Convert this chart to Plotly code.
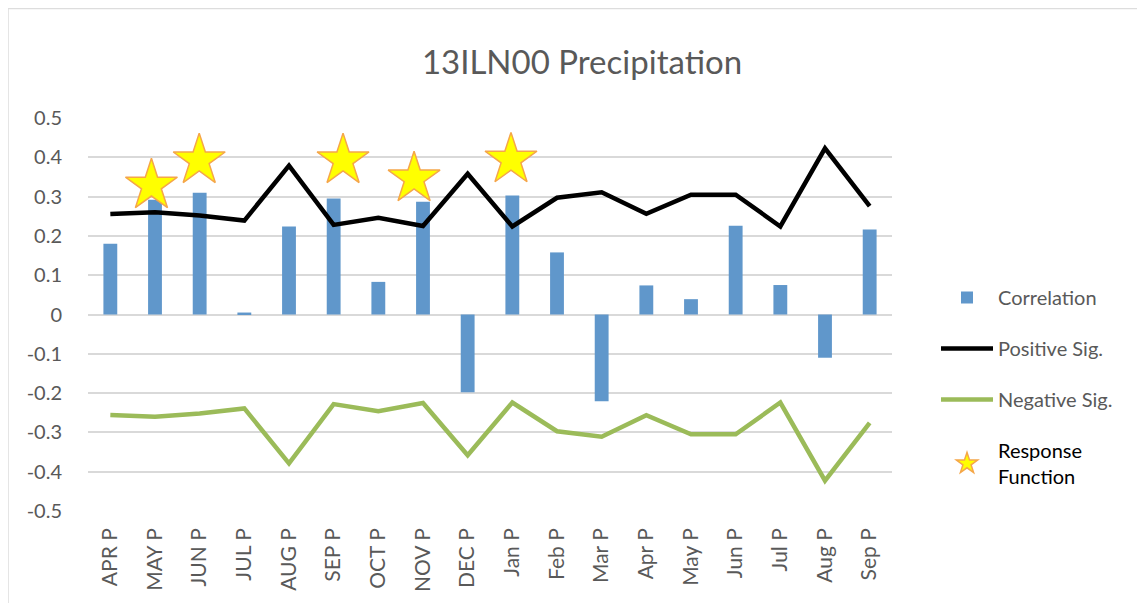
import plotly.graph_objects as go

categories = ["APR P", "MAY P", "JUN P", "JUL P", "AUG P", "SEP P", "OCT P", "NOV P", "DEC P",
              "Jan P", "Feb P", "Mar P", "Apr P", "May P", "Jun P", "Jul P", "Aug P", "Sep P"]
correlation = [0.180, 0.292, 0.310, 0.005, 0.224, 0.295, 0.083, 0.287, -0.198,
               0.303, 0.158, -0.221, 0.074, 0.039, 0.226, 0.075, -0.110, 0.216]
positive_sig = [0.256, 0.260, 0.252, 0.239, 0.379, 0.228, 0.246, 0.225, 0.358,
                0.224, 0.297, 0.311, 0.256, 0.305, 0.305, 0.224, 0.423, 0.276]
negative_sig = [-0.256, -0.260, -0.252, -0.239, -0.379, -0.228, -0.246, -0.225, -0.358,
                -0.224, -0.297, -0.311, -0.256, -0.305, -0.305, -0.224, -0.423, -0.276]
# Response-function stars: position along category axis (index) and height
star_x = [0.92, 1.99, 5.21, 6.80, 8.97]
star_y = [0.328, 0.392, 0.392, 0.346, 0.394]
y_ticks = [0.5, 0.4, 0.3, 0.2, 0.1, 0, -0.1, -0.2, -0.3, -0.4, -0.5]
y_tick_text = ["0.5", "0.4", "0.3", "0.2", "0.1", "0", "-0.1", "-0.2", "-0.3", "-0.4", "-0.5"]

FONT = "Lato"
GREY = "#595959"
x_idx = list(range(len(categories)))

# page is rendered with an 8px body margin, so the figure is 8px smaller
W, H = 1137, 595
L, R, T, B = 80, 253, 110, 92
PW, PH = W - L - R, H - T - B

fig = go.Figure()
fig.add_trace(go.Bar(x=x_idx, y=correlation, name="Correlation", width=0.31,
                     marker=dict(color="#6097CB", line=dict(width=0)),
                     legendgroup="a"))
fig.add_trace(go.Scatter(x=x_idx, y=positive_sig, name="Positive Sig.", mode="lines",
                         line=dict(color="black", width=4.5), legendgroup="b"))
fig.add_trace(go.Scatter(x=x_idx, y=negative_sig, name="Negative Sig.", mode="lines",
                         line=dict(color="#9BBB59", width=4.5), legendgroup="c"))
fig.add_trace(go.Scatter(x=star_x, y=star_y, mode="markers",
                         name="<span style='color:black'>Response<br>Function</span>",
                         marker=dict(symbol="star", size=39, color="#FFFF00",
                                     line=dict(color="#F5A64A", width=1.5)),
                         legendgroup="d"))

fig.update_layout(
    width=W, height=H,
    margin=dict(l=L, r=R, t=T, b=B),
    paper_bgcolor="white", plot_bgcolor="white",
    font=dict(family=FONT, color=GREY, size=17),
    title=dict(text="13ILN00 Precipitation", x=574 / W, xanchor="center",
               y=1 - 54 / H, yanchor="middle",
               font=dict(family=FONT, size=33, color=GREY)),
    showlegend=True,
    legend=dict(x=(928 - L) / PW, y=1 - (270 - T) / PH, xanchor="left", yanchor="top",
                font=dict(family=FONT, size=20, color=GREY),
                traceorder="grouped", tracegroupgap=22, itemsizing="trace", itemwidth=52,
                bgcolor="rgba(0,0,0,0)"),
)
fig.update_xaxes(range=[-0.5, 17.5], tickmode="array", tickvals=x_idx, ticktext=categories,
                 tickangle=-90, showgrid=False, zeroline=False, showline=False,
                 ticks="", ticklabelstandoff=12,
                 tickfont=dict(family=FONT, size=21, color=GREY))
fig.update_yaxes(range=[-0.5, 0.5], tickmode="array", tickvals=y_ticks, ticktext=y_tick_text,
                 showgrid=True, gridcolor="#D9D9D9", gridwidth=1.5,
                 zeroline=True, zerolinecolor="#D9D9D9", zerolinewidth=1.5,
                 showline=False, ticks="", ticklabelstandoff=25,
                 tickfont=dict(family=FONT, size=20, color=GREY))

# outer chart border
fig.add_shape(type="rect", xref="paper", yref="paper",
              x0=(0 - L) / PW, x1=(W + 20 - L) / PW,
              y0=-(B + 20) / PH, y1=1 + (T - 0.5) / PH,
              line=dict(color="#DDDDDD", width=1.5), fillcolor="rgba(0,0,0,0)", layer="below")

fig.write_html("out.html")
